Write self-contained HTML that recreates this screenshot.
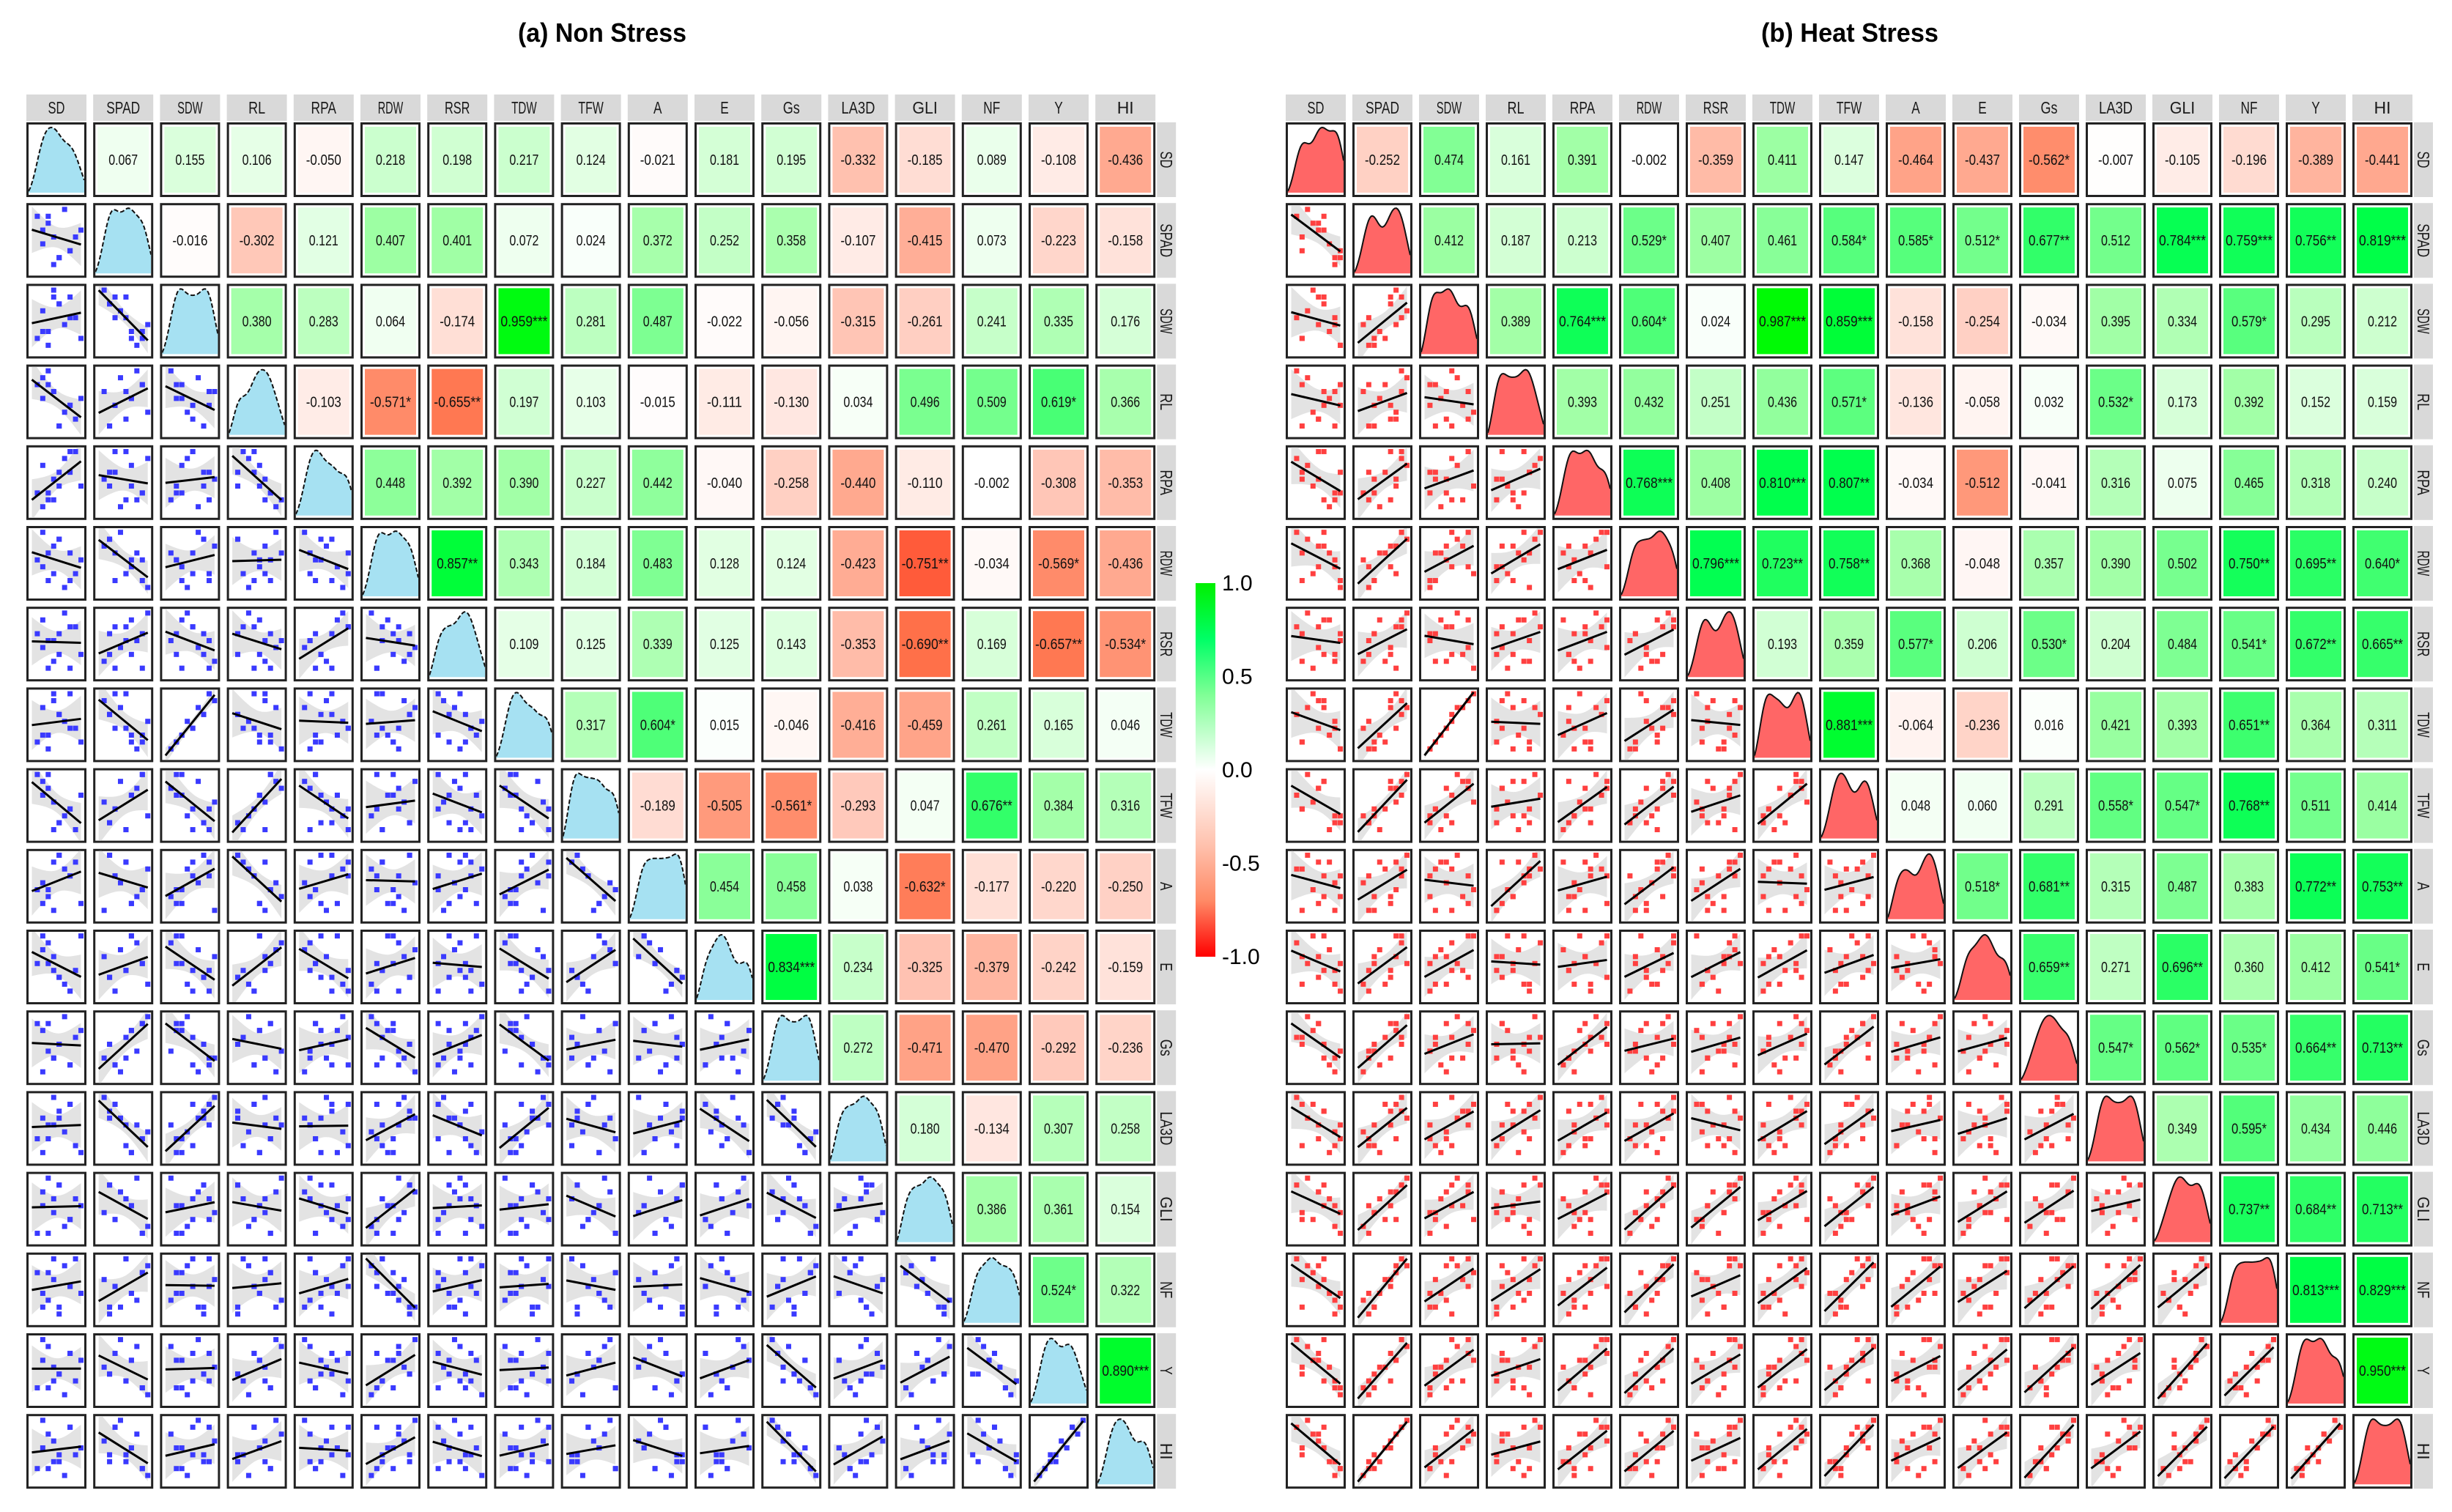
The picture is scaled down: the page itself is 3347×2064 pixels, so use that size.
<!DOCTYPE html>
<html><head><meta charset="utf-8"><title>Correlation matrices</title>
<style>html,body{margin:0;padding:0;background:#fff}svg{display:block}</style></head>
<body>
<svg id="chart" xmlns="http://www.w3.org/2000/svg" width="3347" height="2064" viewBox="0 0 3347 2064" font-family="'Liberation Sans Narrow','Liberation Sans',sans-serif">
<rect width="3347" height="2064" fill="#fff"/>
<text x="822" y="57" font-size="36" font-weight="bold" text-anchor="middle" textLength="230" lengthAdjust="spacingAndGlyphs">(a) Non Stress</text>
<text x="2525" y="57" font-size="36" font-weight="bold" text-anchor="middle" textLength="242" lengthAdjust="spacingAndGlyphs">(b) Heat Stress</text>
<defs><linearGradient id="cbg" x1="0" y1="0" x2="0" y2="1">
<stop offset="0" stop-color="#00f000"/><stop offset="0.15" stop-color="#00ff66"/><stop offset="0.3" stop-color="#80ff96"/><stop offset="0.5" stop-color="#ffffff"/><stop offset="0.7" stop-color="#ffc2ae"/><stop offset="0.85" stop-color="#ff8a66"/><stop offset="1" stop-color="#ff0000"/>
</linearGradient></defs>
<g id="colorbar"></g>
<g id="p0"></g>
<g id="p1"></g>
</svg>
<script>
const vars = ["SD","SPAD","SDW","RL","RPA","RDW","RSR","TDW","TFW","A","E","Gs","LA3D","GLI","NF","Y","HI"];
const colorbarTicks = [1.0, 0.5, 0.0, -0.5, -1.0];
const colorbarLabels = ["1.0","0.5","0.0","-0.5","-1.0"];
const corrNS = [
["0.067","0.155","0.106","-0.050","0.218","0.198","0.217","0.124","-0.021","0.181","0.195","-0.332","-0.185","0.089","-0.108","-0.436"],
["-0.016","-0.302","0.121","0.407","0.401","0.072","0.024","0.372","0.252","0.358","-0.107","-0.415","0.073","-0.223","-0.158"],
["0.380","0.283","0.064","-0.174","0.959***","0.281","0.487","-0.022","-0.056","-0.315","-0.261","0.241","0.335","0.176"],
["-0.103","-0.571*","-0.655**","0.197","0.103","-0.015","-0.111","-0.130","0.034","0.496","0.509","0.619*","0.366"],
["0.448","0.392","0.390","0.227","0.442","-0.040","-0.258","-0.440","-0.110","-0.002","-0.308","-0.353"],
["0.857**","0.343","0.184","0.483","0.128","0.124","-0.423","-0.751**","-0.034","-0.569*","-0.436"],
["0.109","0.125","0.339","0.125","0.143","-0.353","-0.690**","0.169","-0.657**","-0.534*"],
["0.317","0.604*","0.015","-0.046","-0.416","-0.459","0.261","0.165","0.046"],
["-0.189","-0.505","-0.561*","-0.293","0.047","0.676**","0.384","0.316"],
["0.454","0.458","0.038","-0.632*","-0.177","-0.220","-0.250"],
["0.834***","0.234","-0.325","-0.379","-0.242","-0.159"],
["0.272","-0.471","-0.470","-0.292","-0.236"],
["0.180","-0.134","0.307","0.258"],
["0.386","0.361","0.154"],
["0.524*","0.322"],
["0.890***"]
];
const corrHS = [
["-0.252","0.474","0.161","0.391","-0.002","-0.359","0.411","0.147","-0.464","-0.437","-0.562*","-0.007","-0.105","-0.196","-0.389","-0.441"],
["0.412","0.187","0.213","0.529*","0.407","0.461","0.584*","0.585*","0.512*","0.677**","0.512","0.784***","0.759***","0.756**","0.819***"],
["0.389","0.764***","0.604*","0.024","0.987***","0.859***","-0.158","-0.254","-0.034","0.395","0.334","0.579*","0.295","0.212"],
["0.393","0.432","0.251","0.436","0.571*","-0.136","-0.058","0.032","0.532*","0.173","0.392","0.152","0.159"],
["0.768***","0.408","0.810***","0.807**","-0.034","-0.512","-0.041","0.316","0.075","0.465","0.318","0.240"],
["0.796***","0.723**","0.758**","0.368","-0.048","0.357","0.390","0.502","0.750**","0.695**","0.640*"],
["0.193","0.359","0.577*","0.206","0.530*","0.204","0.484","0.541*","0.672**","0.665**"],
["0.881***","-0.064","-0.236","0.016","0.421","0.393","0.651**","0.364","0.311"],
["0.048","0.060","0.291","0.558*","0.547*","0.768**","0.511","0.414"],
["0.518*","0.681**","0.315","0.487","0.383","0.772**","0.753**"],
["0.659**","0.271","0.696**","0.360","0.412","0.541*"],
["0.547*","0.562*","0.535*","0.664**","0.713**"],
["0.349","0.595*","0.434","0.446"],
["0.737**","0.684**","0.713**"],
["0.813***","0.829***"],
["0.950***"]
];
const obsNS = [
[2,5,1,7,3,8,4,6,2,9,5,3,7,4],[6,2,8,3,7,5,1,9,4,6,2,8,3,5],[3,7,2,8,1,5,9,4,6,2,7,3,5,8],
[5,1,7,4,9,2,6,3,8,5,1,7,4,6],[7,4,3,6,2,9,5,8,1,4,6,3,9,2],[4,8,5,2,6,3,7,1,9,5,8,2,6,3],
[8,3,6,1,5,7,2,9,4,3,6,1,7,5],[3,6,2,9,1,4,8,5,7,2,6,3,4,9],[6,2,9,4,7,1,5,3,8,6,2,9,4,1],
[2,9,4,6,3,8,1,7,5,2,9,4,6,8],[9,3,5,1,8,4,6,2,7,9,3,5,1,4],[7,5,8,2,4,6,3,9,1,7,5,8,2,3],
[1,6,3,8,5,2,9,4,6,1,7,3,8,5],[5,8,1,3,9,6,4,2,7,5,8,1,3,6],[4,2,7,5,3,9,6,8,2,4,1,7,5,9],
[6,4,2,7,8,3,5,1,9,6,4,2,7,3],[5,3,2,8,7,4,6,1,9,5,4,2,8,3]
];
const obsHS = [
[8,2,6,9,1,5,7,3,4,8,2,6,9,5],[1,3,6,2,8,6,4,9,7,2,5,8,3,7],[4,2,7,1,5,8,3,6,9,5,2,8,1,4],
[6,1,4,7,9,2,5,8,3,1,7,6,4,2],[3,5,2,6,8,9,1,7,4,2,6,9,3,5],[5,2,7,1,9,4,6,8,3,4,6,9,2,7],
[2,6,3,5,7,4,8,9,1,3,2,8,6,7],[4,2,7,1,6,8,3,7,9,5,2,8,1,4],[3,4,8,2,6,7,1,9,5,2,4,8,3,7],
[5,1,3,6,7,2,8,9,4,1,7,6,3,8],[2,6,4,1,8,3,7,5,9,4,2,9,5,6],[1,5,3,4,6,8,2,9,7,3,6,5,4,8],
[4,2,7,3,9,5,1,6,8,2,8,7,5,3],[2,4,5,1,8,7,6,9,3,5,3,8,4,7],[3,2,6,4,9,5,4,8,7,1,6,9,2,8],
[2,4,3,1,9,7,5,8,6,3,5,9,2,6],[1,4,5,2,8,6,3,9,7,3,5,8,2,7]
];

const NS = "http://www.w3.org/2000/svg";
function mk(tag, attrs, parent){const e=document.createElementNS(NS,tag);for(const k in attrs)e.setAttribute(k,attrs[k]);if(parent)parent.appendChild(e);return e;}
function lerp(a,b,t){return a.map((v,i)=>Math.round(v+(b[i]-v)*t));}
function corrColor(r){
  const pos=[[0,[255,255,255]],[0.4,[160,255,165]],[0.65,[60,255,110]],[0.8,[0,255,80]],[1,[0,250,0]]];
  const neg=[[0,[255,255,255]],[0.3,[255,200,185]],[0.5,[255,155,125]],[0.7,[255,110,70]],[1,[255,0,0]]];
  const st=r>=0?pos:neg, a=Math.min(1,Math.abs(r));
  for(let i=1;i<st.length;i++){if(a<=st[i][0]){const t=(a-st[i-1][0])/(st[i][0]-st[i-1][0]);const c=lerp(st[i-1][1],st[i][1],t);return `rgb(${c[0]},${c[1]},${c[2]})`;}}
  return 'rgb(255,0,0)';
}
const cb=document.getElementById('colorbar');
const cbTop=796, cbBot=1306, cbX=1632, cbW=27;
const cbY=v=>cbTop+(1-v)/2*(cbBot-cbTop);
const cbr=mk('rect',{x:cbX,y:cbTop,width:cbW,height:cbBot-cbTop,fill:'url(#cbg)'},cb);


colorbarTicks.forEach((v,i)=>{
  const t=mk('text',{x:1668,y:cbY(v)+10,'font-size':30},cb);
  t.textContent=colorbarLabels[i];
  
  
});

const panels=[
  {g:'p0',x0:36,pitch:91.2,corr:corrNS,obs:obsNS,pt:'#3a3aff',dens:'#a6e1f2',tag:'ns'},
  {g:'p1',x0:1755,pitch:91.0,corr:corrHS,obs:obsHS,pt:'#ff4040',dens:'#ff6666',tag:'hs'}
];
const cellW=82, cellH=102, y0=167, rowPitch=110.2, headY=129, headH=36;
const dom=[-0.6,9.6];

panels.forEach(P=>{
  const g=document.getElementById(P.g);
  const n=vars.length;
  const cx=i=>P.x0+i*P.pitch, cy=j=>y0+j*rowPitch;
  vars.forEach((v,i)=>{
    const r=mk('rect',{x:cx(i),y:headY,width:cellW,height:headH,fill:'#d9d9d9'},g);
    
    
    const t=mk('text',{x:cx(i)+cellW/2,y:headY+26,'font-size':23,'text-anchor':'middle',textLength:Math.min(52,v.length*11.5),lengthAdjust:'spacingAndGlyphs',fill:'#1a1a1a'},g);
    t.textContent=v;
    
    
    const sx=cx(n-1)+cellW+2, sy=cy(i);
    const r2=mk('rect',{x:sx,y:sy,width:26,height:cellH,fill:'#d9d9d9'},g);
    
    
    const t2=mk('text',{x:0,y:0,'font-size':23,'text-anchor':'middle',textLength:Math.min(52,v.length*11.5),lengthAdjust:'spacingAndGlyphs',fill:'#1a1a1a',transform:`translate(${sx+5},${sy+cellH/2}) rotate(90)`},g);
    t2.textContent=v;
    
    
  });
  for(let j=0;j<n;j++){
    for(let i=0;i<n;i++){
      const x=cx(i), y=cy(j);
      const frame=mk('rect',{x:x+1.5,y:y+1.5,width:cellW-3,height:cellH-3,fill:'#fff',stroke:'#222','stroke-width':3},g);
      
      
      if(i>j){
        const lab=P.corr[j][i-j-1];
        const r=parseFloat(lab);
        const f=mk('rect',{x:x+6,y:y+6,width:cellW-12,height:cellH-12,fill:corrColor(r)},g);
        
        
        const t=mk('text',{x:x+cellW/2,y:y+cellH/2+7,'font-size':20,'text-anchor':'middle',textLength:lab.length*8,lengthAdjust:'spacingAndGlyphs',fill:'#111'},g);
        t.textContent=lab;
        
        
      } else {
        const sv=mk('svg',{x:x+3,y:y+3,width:cellW-6,height:cellH-6,overflow:'hidden'},g);
        
        
        const W=cellW-6,H=cellH-6;
        const sx=v=>(v-dom[0])/(dom[1]-dom[0])*W, sy=v=>H-(v-dom[0])/(dom[1]-dom[0])*H;
        if(i===j){
          const d=P.obs[i], bw=1.1, xs=[], ys=[];
          for(let k=0;k<=40;k++){const xv=dom[0]+k/40*(dom[1]-dom[0]);let s=0;d.forEach(o=>{s+=Math.exp(-0.5*((xv-o)/bw)**2);});xs.push(xv);ys.push(s);}
          const mx=Math.max(...ys), mn=Math.min(...ys)*0.9;
          const py=s=>H-4-(s-mn)/(mx-mn)*(H-8);
          let pts=xs.map((xv,k)=>`${sx(xv).toFixed(1)},${py(ys[k]).toFixed(1)}`);
          const poly=mk('polygon',{points:`0,${H-3} ${pts.join(' ')} ${W},${H-3}`,fill:P.dens},sv);
          
          
          const pl=mk('polyline',{points:pts.join(' '),fill:'none',stroke:'#111','stroke-width':2,'stroke-dasharray':P.tag==='ns'?'6,3':'none'},sv);
          
          
        } else {
          const X=P.obs[i], Y=P.obs[j], m=X.length;
          const mxv=X.reduce((a,b)=>a+b)/m, myv=Y.reduce((a,b)=>a+b)/m;
          let sxx=0,sxy=0;X.forEach((xv,k)=>{sxx+=(xv-mxv)**2;sxy+=(xv-mxv)*(Y[k]-myv);});
          const b=sxy/sxx, a=myv-b*mxv;
          let sse=0;X.forEach((xv,k)=>{sse+=(Y[k]-a-b*xv)**2;});
          const s=Math.sqrt(sse/(m-2));
          const up=[],lo=[];
          for(let k=0;k<=20;k++){const xv=dom[0]+0.6+k/20*(dom[1]-dom[0]-1.2);const se=2.2*s*Math.sqrt(1/m+(xv-mxv)**2/sxx);const yh=a+b*xv;up.push(`${sx(xv).toFixed(1)},${sy(yh+se).toFixed(1)}`);lo.unshift(`${sx(xv).toFixed(1)},${sy(yh-se).toFixed(1)}`);}
          const band=mk('polygon',{points:up.concat(lo).join(' '),fill:'#e3e3e3'},sv);
          
          
          X.forEach((xv,k)=>{
            const p=mk('rect',{x:sx(xv)-3.5,y:sy(Y[k])-3.5,width:7,height:7,fill:P.pt},sv);
            
            
          });
          const xa=dom[0]+0.6, xb=dom[1]-0.6;
          const ln=mk('line',{x1:sx(xa),y1:sy(a+b*xa),x2:sx(xb),y2:sy(a+b*xb),stroke:'#000','stroke-width':3},sv);
          
          
        }
      }
    }
  }
});
</script>
</body></html>
